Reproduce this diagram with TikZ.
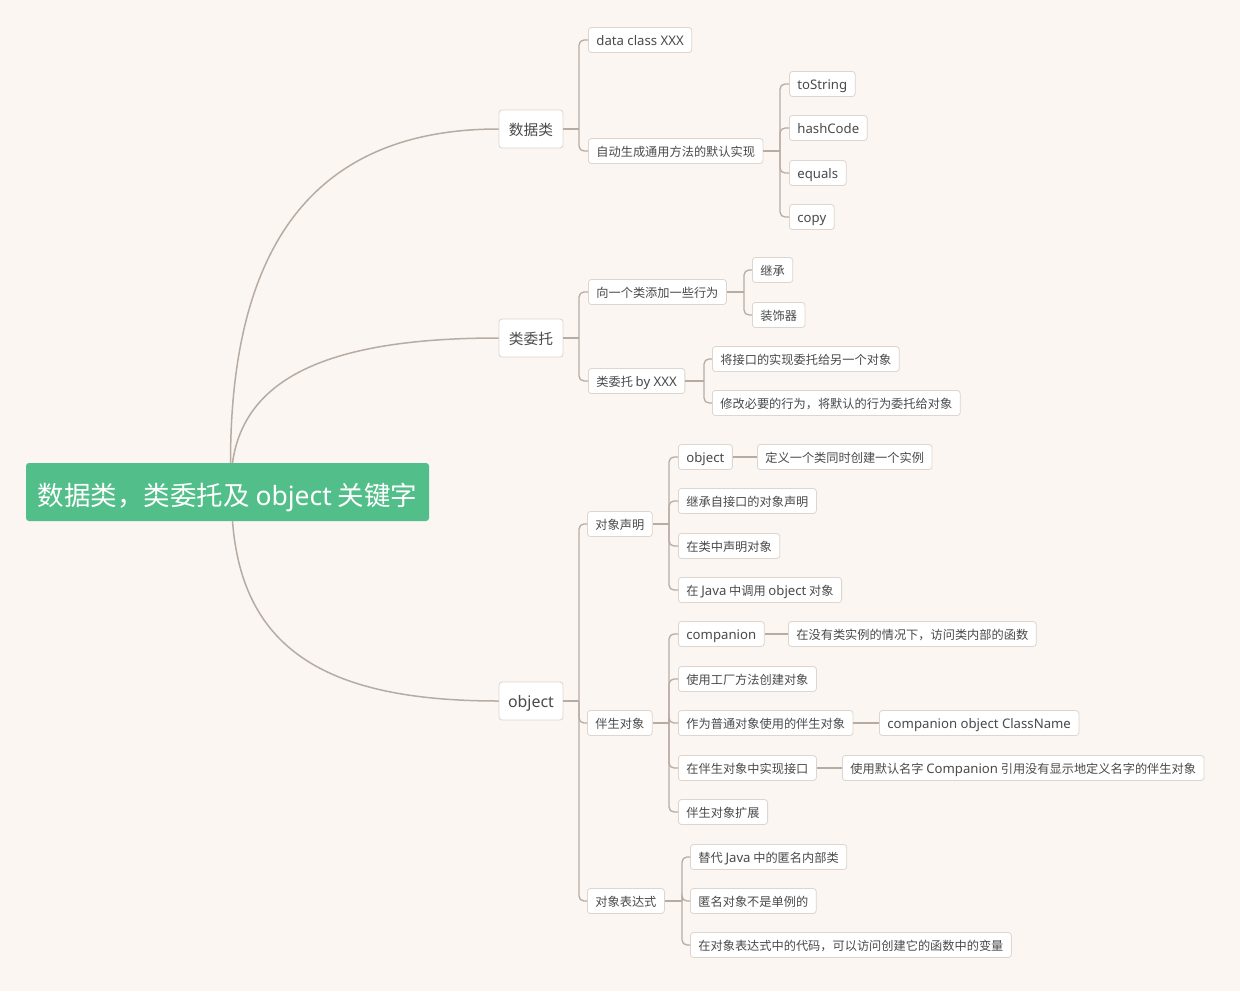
\documentclass[tikz,border=0pt]{standalone}
\usepackage{fontspec}
\setmainfont{Noto Sans CJK SC}
\newfontfamily\latf[Scale=1.08]{Noto Sans}
\newcommand{\la}[1]{{\latf #1}}
\definecolor{bg}{HTML}{FBF6F1}
\definecolor{rootgreen}{HTML}{52BE8A}
\definecolor{boxline}{HTML}{DDD5CE}
\definecolor{conn}{HTML}{B7ACA4}
\definecolor{txt}{HTML}{4A4A4A}
\begin{document}
\begin{tikzpicture}[x=1pt,y=-1pt,
  rootbox/.style={fill=rootgreen, draw=none, rounded corners=3pt, minimum width=403pt, minimum height=58pt, inner sep=0pt, text=white, text height=26pt, text depth=0pt, font=\fontsize{26.5}{30}\selectfont},
  lone/.style={draw=boxline, fill=white, rounded corners=3pt, line width=0.8pt, minimum width=64pt, minimum height=38pt, inner sep=0pt, text=txt, text height=13.5pt, text depth=0pt, font=\fontsize{14.7}{18}\selectfont},
  ltwo/.style={draw=boxline, fill=white, rounded corners=3pt, line width=0.8pt, inner xsep=8pt, inner ysep=0pt, minimum height=25pt, anchor=west, text=txt, text height=11pt, text depth=0pt, font=\fontsize{12.2}{15}\selectfont},
  curve/.style={draw=conn, line width=1.5pt},
  link/.style={draw=conn, line width=1.3pt},
  elbow/.style={draw=conn, line width=1.3pt, rounded corners=5pt}
]
\fill[bg] (0,0) rectangle (1240,991);
\useasboundingbox (0,0) rectangle (1240,991);

% root
\node[rootbox] (root) at (227.5,492) {数据类，类委托及 {\fontspec{Noto Sans}object} 关键字};

% level 1
\node[lone] (sjl) at (531,129) {数据类};
\node[lone] (lwt) at (531,338) {类委托};
\node[lone] (obj) at (531,701) {\la{object}};

\draw[curve] ([xshift=3pt]root.north) .. controls +(0,-210) and +(-190,0) .. (sjl.west);
\draw[curve] ([xshift=5pt]root.north) .. controls +(12,-85) and +(-170,0) .. (lwt.west);
\draw[curve] ([xshift=5pt]root.south) .. controls +(10,130) and +(-170,0) .. (obj.west);

% spines
\coordinate (sA) at (579,0);
\coordinate (sB) at (780,0);
\coordinate (sC) at (744,0);
\coordinate (sD) at (704,0);
\coordinate (sE) at (669,0);
\coordinate (sF) at (682,0);

% 数据类 branch
\node[ltwo] (dc) at (588,40) {\la{data class XXX}};
\node[ltwo] (zd) at (588,151) {自动生成通用方法的默认实现};
\node[ltwo] (ts) at (789,84) {\la{toString}};
\node[ltwo] (hc) at (789,128) {\la{hashCode}};
\node[ltwo] (eq) at (789,173) {\la{equals}};
\node[ltwo] (cp) at (789,217) {\la{copy}};

\draw[link] (sjl.east) -- (sjl.east -| sA);
\draw[elbow] (sjl.east -| sA) |- (dc.west);
\draw[elbow] (sjl.east -| sA) |- (zd.west);
\draw[link] (zd.east) -- (zd.east -| sB);
\foreach \c in {ts,hc,eq,cp} \draw[elbow] (zd.east -| sB) |- (\c.west);

% 类委托 branch
\node[ltwo] (xy) at (588,292) {向一个类添加一些行为};
\node[ltwo] (wb) at (588,381) {类委托 \la{by XXX}};
\node[ltwo] (jc) at (752,270) {继承};
\node[ltwo] (zs) at (752,315) {装饰器};
\node[ltwo] (jk) at (712,359) {将接口的实现委托给另一个对象};
\node[ltwo] (xg) at (712,403) {修改必要的行为，将默认的行为委托给对象};

\draw[link] (lwt.east) -- (lwt.east -| sA);
\draw[elbow] (lwt.east -| sA) |- (xy.west);
\draw[elbow] (lwt.east -| sA) |- (wb.west);
\draw[link] (xy.east) -- (xy.east -| sC);
\draw[elbow] (xy.east -| sC) |- (jc.west);
\draw[elbow] (xy.east -| sC) |- (zs.west);
\draw[link] (wb.east) -- (wb.east -| sD);
\draw[elbow] (wb.east -| sD) |- (jk.west);
\draw[elbow] (wb.east -| sD) |- (xg.west);

% object branch
\node[ltwo] (dxsm) at (587,524) {对象声明};
\node[ltwo] (bsdx) at (587,723) {伴生对象};
\node[ltwo] (dxbd) at (587,901) {对象表达式};

\draw[link] (obj.east) -- (obj.east -| sA);
\draw[elbow] (obj.east -| sA) |- (dxsm.west);
\draw[elbow] (obj.east -| sA) |- (bsdx.west);
\draw[elbow] (obj.east -| sA) |- (dxbd.west);

% 对象声明
\node[ltwo] (o1) at (678,457) {\la{object}};
\node[ltwo] (o1a) at (757,457) {定义一个类同时创建一个实例};
\node[ltwo] (o2) at (678,501) {继承自接口的对象声明};
\node[ltwo] (o3) at (678,546) {在类中声明对象};
\node[ltwo] (o4) at (678,590) {在 \la{Java} 中调用 \la{object} 对象};

\draw[link] (dxsm.east) -- (dxsm.east -| sE);
\foreach \c in {o1,o2,o3,o4} \draw[elbow] (dxsm.east -| sE) |- (\c.west);
\draw[link] (o1.east) -- (o1a.west);

% 伴生对象
\node[ltwo] (c1) at (678,634) {\la{companion}};
\node[ltwo] (c1a) at (788,634) {在没有类实例的情况下，访问类内部的函数};
\node[ltwo] (c2) at (678,679) {使用工厂方法创建对象};
\node[ltwo] (c3) at (678,723) {作为普通对象使用的伴生对象};
\node[ltwo] (c3a) at (879,723) {\la{companion object ClassName}};
\node[ltwo] (c4) at (678,768) {在伴生对象中实现接口};
\node[ltwo] (c4a) at (842,768) {使用默认名字 \la{Companion} 引用没有显示地定义名字的伴生对象};
\node[ltwo] (c5) at (678,812) {伴生对象扩展};

\draw[link] (bsdx.east) -- (bsdx.east -| sE);
\foreach \c in {c1,c2,c3,c4,c5} \draw[elbow] (bsdx.east -| sE) |- (\c.west);
\draw[link] (c1.east) -- (c1a.west);
\draw[link] (c3.east) -- (c3a.west);
\draw[link] (c4.east) -- (c4a.west);

% 对象表达式
\node[ltwo] (e1) at (690,857) {替代 \la{Java} 中的匿名内部类};
\node[ltwo] (e2) at (690,901) {匿名对象不是单例的};
\node[ltwo] (e3) at (690,945) {在对象表达式中的代码，可以访问创建它的函数中的变量};

\draw[link] (dxbd.east) -- (dxbd.east -| sF);
\foreach \c in {e1,e2,e3} \draw[elbow] (dxbd.east -| sF) |- (\c.west);
\end{tikzpicture}
\end{document}
